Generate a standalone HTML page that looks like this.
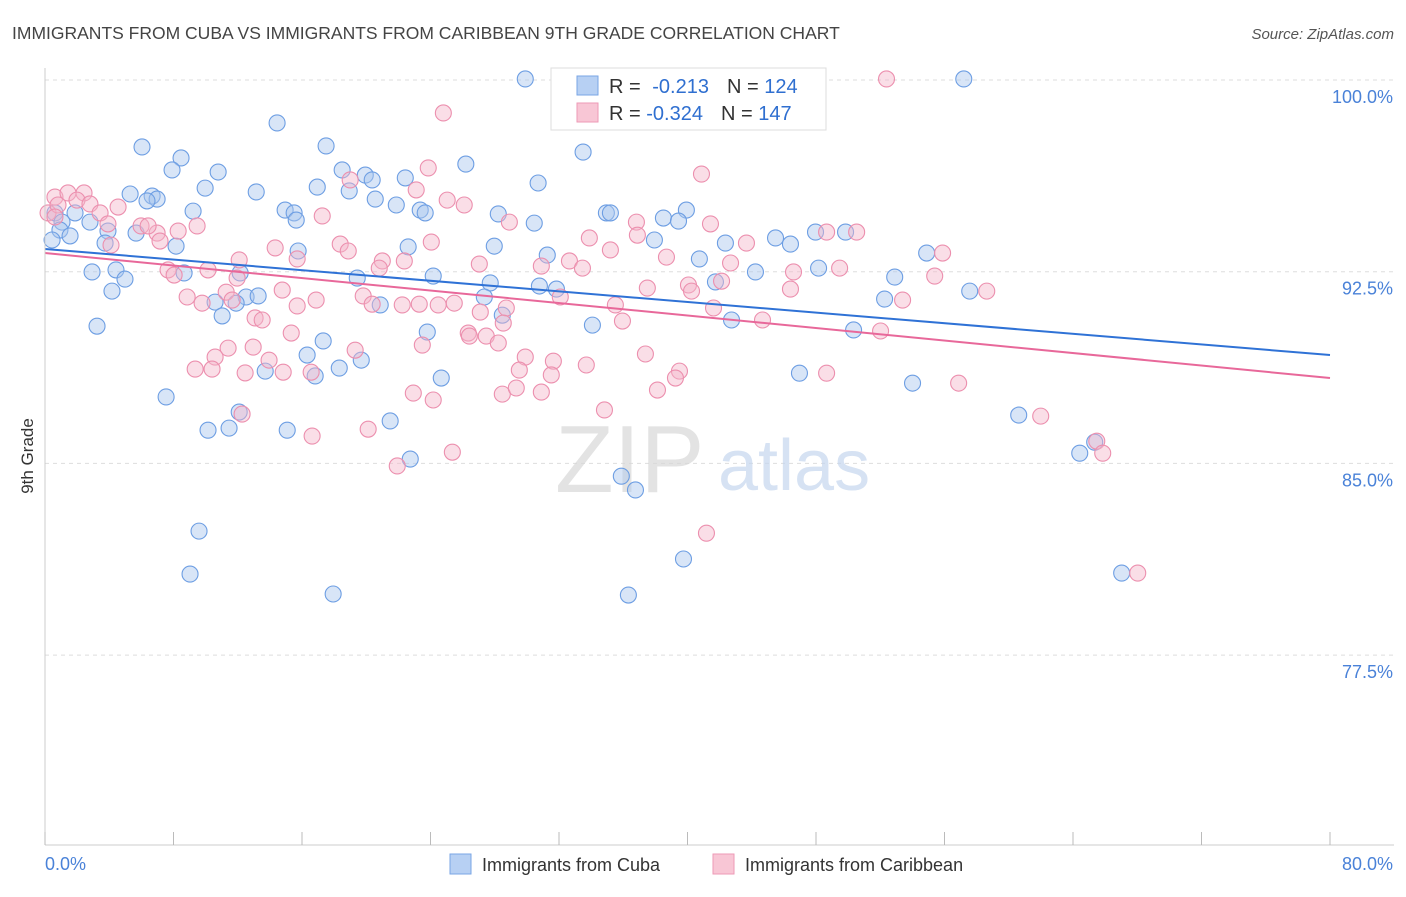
<!DOCTYPE html>
<html><head><meta charset="utf-8">
<style>
html,body{margin:0;padding:0;background:#fff;}
body{width:1406px;height:892px;overflow:hidden;font-family:"Liberation Sans",sans-serif;}
svg text{font-family:"Liberation Sans",sans-serif;}
</style></head>
<body>
<svg id="chart" width="1406" height="892" xmlns="http://www.w3.org/2000/svg">
  <text x="12" y="39" font-size="17.5" fill="#444">IMMIGRANTS FROM CUBA VS IMMIGRANTS FROM CARIBBEAN 9TH GRADE CORRELATION CHART</text>
  <text x="1394" y="39" font-size="15" fill="#555" text-anchor="end" font-style="italic">Source: ZipAtlas.com</text>
  <g id="grid"></g>
  <g>
    <text x="555" y="492" font-size="96" fill="#d8d8d8" font-family="Liberation Serif, serif" opacity="0.7">ZIP</text>
    <text x="718" y="490" font-size="72" fill="#c5d6ee" opacity="0.7">atlas</text>
  </g>
  <g id="pts"></g>
  <g id="lines"></g>
  <g id="axes"></g>
  <text transform="translate(33,456) rotate(-90)" font-size="17" fill="#333" text-anchor="middle">9th Grade</text>
  <g>
    <rect x="551" y="68" width="275" height="62" fill="#fff" stroke="#ddd"/>
    <rect x="577" y="76" width="21" height="19" fill="#b7d0f3" stroke="#7aa6e4"/>
    <rect x="577" y="103" width="21" height="19" fill="#f8c6d5" stroke="#ee9ab6"/>
    <text x="609" y="93" font-size="20" fill="#333">R = <tspan fill="#2f6fd0" dx="6">-0.213</tspan><tspan fill="#333" dx="18">N = </tspan><tspan fill="#2f6fd0">124</tspan></text>
    <text x="609" y="120" font-size="20" fill="#333">R = <tspan fill="#2f6fd0">-0.324</tspan><tspan fill="#333" dx="18">N = </tspan><tspan fill="#2f6fd0">147</tspan></text>
  </g>
  <g>
    <g>
      <rect x="450" y="854" width="21" height="20" fill="#b7d0f3" stroke="#7aa6e4"/>
      <text x="482" y="871" font-size="18" fill="#333">Immigrants from Cuba</text>
    </g>
    <g>
      <rect x="713" y="854" width="21" height="20" fill="#f8c6d5" stroke="#ee9ab6"/>
      <text x="745" y="871" font-size="18" fill="#333">Immigrants from Caribbean</text>
    </g>
  </g>
</svg>
<script>
const xTicksVals=[0,8,16,24,32,40,48,56,64,72,80];
const yTickVals=[100,92.5,85,77.5];
const yTickLabels=["100.0%","92.5%","85.0%","77.5%"];
const xEndLabels=["0.0%","80.0%"];
const blueX=[29.9,57.2,14.45,6.04,17.5,8.47,33.5,26.2,10.78,7.91,18.5,19.94,22.43,20.37,30.7,9.97,16.95,13.15,5.3,18.94,6.67,6.98,6.35,20.56,21.87,23.36,23.67,14.95,15.51,9.22,34.95,35.2,38.5,39.93,39.44,28.22,30.46,0.62,1.87,1.06,2.8,0.93,1.56,0.44,3.92,5.67,15.64,3.74,8.16,15.76,22.61,27.97,31.27,37.94,42.36,45.48,46.41,47.97,49.84,54.89,40.74,48.16,44.23,19.44,12.15,24.17,27.72,30.78,31.84,41.74,52.9,2.93,4.42,4.98,8.66,4.17,12.52,13.27,10.59,11.9,11.03,20.87,27.35,28.47,34.08,42.74,3.24,23.8,50.34,52.27,57.57,17.32,16.32,18.32,19.69,16.82,13.71,24.67,46.97,54.01,7.54,12.09,21.49,10.15,11.46,15.08,22.74,60.62,64.42,65.35,35.88,36.76,9.59,39.75,9.03,17.94,36.32,67.03];
const blueY=[100.04,100.04,98.32,97.38,97.42,96.95,97.18,96.71,96.4,96.48,96.48,96.28,96.17,96.09,95.97,95.77,95.81,95.62,95.54,95.66,95.46,95.34,95.27,95.34,95.11,94.91,94.8,94.91,94.8,94.87,94.8,94.8,94.6,94.91,94.48,94.76,94.4,94.8,94.8,94.44,94.44,94.13,93.9,93.74,94.09,94.01,94.52,93.62,93.5,93.31,93.47,93.5,93.15,93.74,93.62,93.82,93.58,94.05,94.05,93.23,93.0,92.64,92.49,92.25,92.45,92.33,92.06,91.94,91.82,92.1,92.29,92.49,92.57,92.21,92.45,91.74,91.51,91.55,91.31,91.27,90.77,91.2,91.51,90.8,90.41,90.61,90.37,90.14,90.22,91.43,91.74,89.79,89.24,88.73,89.04,88.42,88.61,88.34,88.53,88.14,87.6,87.01,86.66,86.3,86.38,86.3,85.17,86.89,85.4,85.83,84.5,83.96,82.35,81.26,80.67,79.89,79.85,80.71];
const pinkX=[52.39,24.8,40.87,19.0,23.11,23.86,26.1,25.04,0.62,1.43,2.43,0.19,0.81,1.99,2.8,3.43,4.55,3.92,5.98,6.98,6.42,7.16,8.29,9.47,17.26,28.91,33.89,36.82,36.88,41.43,43.67,48.66,50.53,55.88,4.11,14.33,15.7,18.38,18.88,21.0,22.37,20.81,24.05,27.04,30.9,32.65,33.46,35.2,38.69,40.06,42.12,42.68,46.6,49.47,55.39,58.63,0.62,7.66,8.04,10.15,12.09,11.96,11.28,11.65,8.85,9.78,14.77,15.7,16.88,19.81,20.37,22.24,23.3,24.48,25.48,27.1,28.72,32.08,35.51,35.95,37.5,40.25,41.62,44.67,46.41,53.39,52.02,13.08,13.52,15.33,26.35,26.42,27.47,28.22,28.53,23.49,11.4,12.96,13.95,10.59,9.35,10.4,12.46,14.83,16.57,19.31,29.9,31.65,33.7,37.38,39.5,39.25,31.52,29.53,22.93,24.17,28.47,29.34,30.9,38.13,48.66,56.88,12.27,20.12,16.63,25.36,34.83,21.93,61.99,65.48,65.85,41.18,68.03];
const pinkY=[100.04,98.71,96.32,96.09,95.7,96.56,95.11,95.3,95.42,95.58,95.58,94.8,95.11,95.3,95.15,94.8,95.03,94.37,94.29,94.01,94.29,93.7,94.09,94.29,94.68,94.44,93.82,94.44,93.93,94.37,93.62,94.05,94.05,93.23,93.54,93.43,93.0,93.58,93.31,92.92,92.92,92.64,93.66,92.8,92.72,92.92,92.64,93.35,93.07,91.98,92.13,92.84,92.49,92.64,92.33,91.74,94.64,92.57,92.37,92.57,92.96,92.25,91.7,91.39,91.51,91.27,91.78,91.16,91.39,91.55,91.23,91.2,91.23,91.2,91.27,90.92,91.08,91.51,91.2,90.57,91.86,91.74,91.08,90.61,91.82,91.39,90.18,90.69,90.61,90.1,90.1,89.98,89.98,89.71,90.49,89.63,89.51,89.55,89.04,89.16,88.69,88.69,88.54,88.57,88.57,89.43,89.16,89.0,88.85,89.28,88.61,88.34,88.46,88.65,87.75,87.48,87.71,87.95,87.79,87.87,88.53,88.14,86.93,86.34,86.07,85.44,87.09,84.9,86.85,85.87,85.4,82.27,80.71];
const blueTrend=[93.39,89.24];
const pinkTrend=[93.23,88.34];

const NS="http://www.w3.org/2000/svg";
const X0=45,X1=1330,Y100=80,PXPER=191.7/7.5;
function xs(v){return X0+(v/80)*(X1-X0);}
function ys(v){return Y100+(100-v)*PXPER;}
function mk(tag,attrs,parent){const e=document.createElementNS(NS,tag);for(const k in attrs)e.setAttribute(k,attrs[k]);parent.appendChild(e);return e;}
const grid=document.getElementById('grid'),axes=document.getElementById('axes'),pts=document.getElementById('pts'),lines=document.getElementById('lines');
yTickVals.forEach((v,i)=>{
  const l=mk('line',{x1:X0,x2:1394,y1:ys(v),y2:ys(v),stroke:'#ddd','stroke-dasharray':'4,4'},grid);
  
  
  const t=mk('text',{x:1393,y:ys(v)+23,'font-size':18,fill:'#4a82d8','text-anchor':'end'},axes);
  t.textContent=yTickLabels[i];
  
  
});
const ax=mk('line',{x1:X0,x2:X0,y1:68,y2:845,stroke:'#ccc'},axes);


const bx=mk('line',{x1:X0,x2:1394,y1:845,y2:845,stroke:'#ccc'},axes);


xTicksVals.forEach(v=>{
  const t=mk('line',{x1:xs(v),x2:xs(v),y1:832,y2:845,stroke:'#bbb'},axes);
  
  
});
const xl0=mk('text',{x:45,y:870,'font-size':18,fill:'#4a82d8'},axes);xl0.textContent=xEndLabels[0];


const xl1=mk('text',{x:1393,y:870,'font-size':18,fill:'#4a82d8','text-anchor':'end'},axes);xl1.textContent=xEndLabels[1];


function drawPts(X,Y,fill,stroke,name){
  X.forEach((x,i)=>{
    const c=mk('circle',{cx:xs(x),cy:ys(Y[i]),r:8,fill:fill,'fill-opacity':0.45,stroke:stroke,'stroke-width':1.1},pts);
    
    
  });
}
drawPts(blueX,blueY,'#a9c6ee','#6d9ee3','cuba-point');
drawPts(pinkX,pinkY,'#f5b5c9','#ec8fae','caribbean-point');
const bl=mk('line',{x1:xs(0),y1:ys(blueTrend[0]),x2:xs(80),y2:ys(blueTrend[1]),stroke:'#2f72d6','stroke-width':2},lines);


const pl=mk('line',{x1:xs(0),y1:ys(pinkTrend[0]),x2:xs(80),y2:ys(pinkTrend[1]),stroke:'#e8689a','stroke-width':2},lines);


</script>
</body></html>
